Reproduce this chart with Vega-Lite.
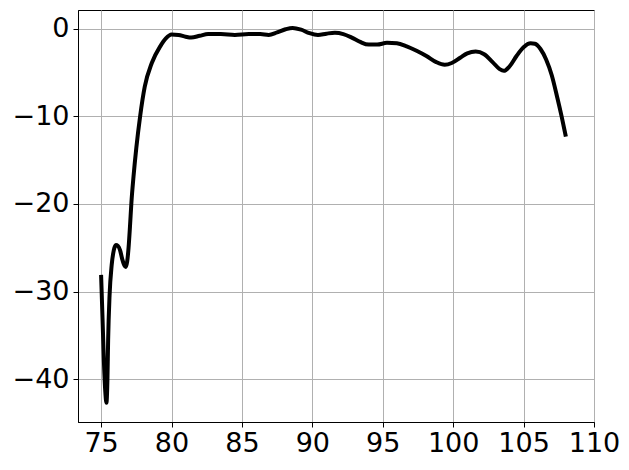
{
  "$schema": "https://vega.github.io/schema/vega-lite/v6.json",
  "width": 516,
  "height": 412,
  "autosize": "none",
  "padding": {"left": 78, "top": 10, "right": 35, "bottom": 48},
  "background": "white",
  "config": {
    "view": {"stroke": "black", "strokeWidth": 1},
    "font": "DejaVu Sans"
  },
  "data": {"values": [
    {"x": 75.0, "y": -28.1}, {"x": 75.1, "y": -33.0}, {"x": 75.2, "y": -38.0}, {"x": 75.3, "y": -41.5},
    {"x": 75.38, "y": -42.7}, {"x": 75.45, "y": -40.0}, {"x": 75.5, "y": -35.5}, {"x": 75.6, "y": -30.5},
    {"x": 75.75, "y": -27.0}, {"x": 75.9, "y": -25.3}, {"x": 76.05, "y": -24.7}, {"x": 76.2, "y": -24.8},
    {"x": 76.35, "y": -25.3}, {"x": 76.5, "y": -26.3}, {"x": 76.65, "y": -27.0}, {"x": 76.75, "y": -27.2},
    {"x": 76.85, "y": -26.6}, {"x": 76.95, "y": -25.0}, {"x": 77.05, "y": -22.6}, {"x": 77.15, "y": -19.9},
    {"x": 77.3, "y": -16.9}, {"x": 77.5, "y": -13.6}, {"x": 77.77, "y": -10.0}, {"x": 78.1, "y": -6.6},
    {"x": 78.6, "y": -3.9}, {"x": 79.2, "y": -2.0}, {"x": 79.6, "y": -1.1}, {"x": 80.0, "y": -0.65},
    {"x": 80.5, "y": -0.7}, {"x": 81.0, "y": -0.9}, {"x": 81.4, "y": -1.0}, {"x": 82.0, "y": -0.8},
    {"x": 82.6, "y": -0.6}, {"x": 83.5, "y": -0.6}, {"x": 84.5, "y": -0.7}, {"x": 85.5, "y": -0.6},
    {"x": 86.3, "y": -0.6}, {"x": 86.9, "y": -0.7}, {"x": 87.5, "y": -0.4}, {"x": 88.1, "y": -0.05},
    {"x": 88.6, "y": 0.1}, {"x": 89.2, "y": -0.1}, {"x": 89.8, "y": -0.5}, {"x": 90.4, "y": -0.7},
    {"x": 91.0, "y": -0.55}, {"x": 91.6, "y": -0.45}, {"x": 92.2, "y": -0.6}, {"x": 92.8, "y": -1.0},
    {"x": 93.4, "y": -1.5}, {"x": 94.0, "y": -1.8}, {"x": 94.6, "y": -1.8}, {"x": 95.3, "y": -1.6},
    {"x": 96.0, "y": -1.65}, {"x": 96.7, "y": -2.0}, {"x": 97.4, "y": -2.5}, {"x": 98.1, "y": -3.1},
    {"x": 98.8, "y": -3.8}, {"x": 99.4, "y": -4.1}, {"x": 99.9, "y": -3.9}, {"x": 100.5, "y": -3.3},
    {"x": 101.0, "y": -2.8}, {"x": 101.6, "y": -2.6}, {"x": 102.2, "y": -2.9}, {"x": 102.8, "y": -3.8},
    {"x": 103.3, "y": -4.6}, {"x": 103.6, "y": -4.8}, {"x": 104.0, "y": -4.3}, {"x": 104.5, "y": -3.1},
    {"x": 105.0, "y": -2.1}, {"x": 105.5, "y": -1.65}, {"x": 105.8, "y": -1.7}, {"x": 106.2, "y": -2.3},
    {"x": 106.6, "y": -3.5}, {"x": 107.0, "y": -5.3}, {"x": 107.4, "y": -7.9}, {"x": 107.7, "y": -10.0},
    {"x": 108.0, "y": -12.3}
  ]},
  "mark": {"type": "line", "color": "black", "strokeWidth": 4, "interpolate": "monotone", "clip": true},
  "encoding": {
    "x": {
      "field": "x", "type": "quantitative",
      "scale": {"domain": [73.36, 110], "nice": false, "zero": false},
      "axis": {
        "title": null, "values": [75, 80, 85, 90, 95, 100, 105, 110],
        "grid": true, "gridColor": "#b0b0b0", "gridWidth": 1, "gridOpacity": 1,
        "domainColor": "black", "tickColor": "black", "tickSize": 5,
        "labelFontSize": 27, "labelColor": "black", "labelPadding": 3, "labelFlush": false,
        "format": "d"
      }
    },
    "y": {
      "field": "y", "type": "quantitative",
      "scale": {"domain": [-44.9, 2.15], "nice": false, "zero": false},
      "axis": {
        "title": null, "values": [-40, -30, -20, -10, 0],
        "grid": true, "gridColor": "#b0b0b0", "gridWidth": 1, "gridOpacity": 1,
        "domainColor": "black", "tickColor": "black", "tickSize": 5,
        "labelFontSize": 27, "labelColor": "black", "labelPadding": 4, "labelFlush": false,
        "format": "d",
        "labelExpr": "replace(datum.label, '-', '\u2212')"
      }
    }
  }
}
